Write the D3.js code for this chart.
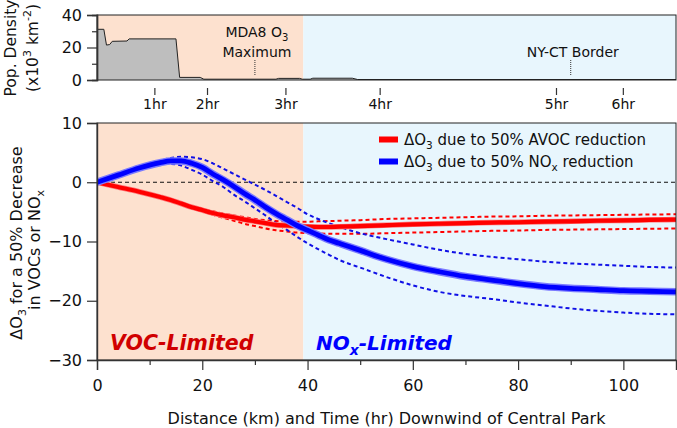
<!DOCTYPE html>
<html><head><meta charset="utf-8">
<script src="https://cdn.jsdelivr.net/npm/d3@7"></script>
<style>
body{margin:0;background:#fff}
svg{display:block}
text{font-family:"DejaVu Sans",Verdana,sans-serif;fill:#111}
</style>
</head><body>
<svg id="c" width="677" height="428"></svg>
<script>
// ---------- data ----------
const kmGrid   = [0,4,8,12,14,16,18,20,22,24,26,28,30,32,34,36,38,40,42,44,46,48,50,55,60,65,70,75,80,85,90,95,100,105,110];
const noxMain  = [0,1.2,2.4,3.3,3.6,3.6,3.2,2.5,1.4,0.4,-0.7,-1.9,-3.0,-4.2,-5.3,-6.3,-7.3,-8.1,-8.9,-9.7,-10.3,-10.9,-11.5,-13.0,-14.2,-15.1,-15.9,-16.5,-17.1,-17.6,-17.9,-18.1,-18.3,-18.4,-18.5];
const noxUpper = [0,1.2,2.5,3.6,4.1,4.3,4.2,3.9,3.2,2.3,1.4,0.5,-0.4,-1.3,-2.3,-3.3,-4.3,-5.4,-6.2,-6.9,-7.5,-8.1,-8.6,-9.6,-10.5,-11.4,-12.1,-12.6,-13.0,-13.4,-13.7,-13.9,-14.1,-14.3,-14.4];
const noxLower = [0,1.2,2.3,3.1,3.1,2.8,2.1,1.3,0.2,-0.8,-2.1,-3.2,-4.4,-5.6,-6.9,-8.0,-9.2,-10.3,-11.3,-12.2,-13.1,-13.8,-14.4,-16.0,-17.4,-18.5,-19.2,-19.7,-20.3,-20.8,-21.3,-21.7,-22.0,-22.2,-22.3];
const avocMain  = [0,-0.8,-1.6,-2.5,-3.0,-3.6,-4.2,-4.7,-5.2,-5.6,-5.9,-6.3,-6.6,-6.9,-7.2,-7.3,-7.4,-7.5,-7.55,-7.55,-7.5,-7.45,-7.4,-7.25,-7.1,-7.0,-6.9,-6.8,-6.75,-6.65,-6.6,-6.5,-6.45,-6.35,-6.3];
const avocUpper = [0,-0.8,-1.6,-2.4,-2.9,-3.5,-4.0,-4.5,-4.9,-5.3,-5.6,-5.9,-6.2,-6.4,-6.55,-6.6,-6.65,-6.65,-6.6,-6.55,-6.5,-6.45,-6.4,-6.2,-6.1,-6.0,-5.9,-5.8,-5.75,-5.65,-5.6,-5.55,-5.5,-5.45,-5.4];
const avocLower = [0,-0.8,-1.7,-2.6,-3.2,-3.8,-4.4,-4.9,-5.5,-6.0,-6.5,-7.0,-7.4,-7.8,-8.1,-8.3,-8.5,-8.6,-8.65,-8.7,-8.7,-8.7,-8.7,-8.6,-8.5,-8.4,-8.3,-8.2,-8.15,-8.05,-8.0,-7.95,-7.9,-7.85,-7.8];

const popKm  = [0,1.3,1.8,2.4,2.9,5.7,6.1,15.0,15.7,19.6,20.3,34,34.5,38.5,39,40.5,41,48.5,49.5,110];
const popVal = [31.2,31.2,21.5,21.8,23.8,24.0,25.3,25.3,1.6,1.6,0.5,0.5,1.0,1.0,0.5,0.5,1.1,1.1,0.3,0.3];

const regimeEdgesKm = [0, 39.2, 110];
const hourKm     = [10.9, 20.9, 35.8, 53.7, 87.2, 99.9];
const hourLabels = ["1hr","2hr","3hr","4hr","5hr","6hr"];
const markerKm   = [30, 90];

const xTicks      = [0,20,40,60,80,100];
const xMinorTicks = [10,30,50,70,90];
const yBotTicks   = [-30,-20,-10,0,10];
const yTopTicks   = [0,20,40];
const yTopMinor   = [10,30];

// ---------- setup ----------
const svg = d3.select("#c");
const x    = d3.scaleLinear().domain([0,110]).range([97,676]);
const yTop = d3.scaleLinear().domain([0,40]).range([80,15]);
const yBot = d3.scaleLinear().domain([-30,10]).range([360,123]);
const peach = "#fde1cf", sky = "#e8f6fd";

function shade(y){
  const [y0,y1] = y.range();
  svg.append("rect").attr("x",x(regimeEdgesKm[0])).attr("y",y1)
    .attr("width",x(regimeEdgesKm[1])-x(regimeEdgesKm[0])).attr("height",y0-y1).attr("fill",peach);
  svg.append("rect").attr("x",x(regimeEdgesKm[1])).attr("y",y1)
    .attr("width",x(regimeEdgesKm[2])-x(regimeEdgesKm[1])).attr("height",y0-y1).attr("fill",sky);
}
shade(yTop); shade(yBot);

// ---------- top panel ----------
const popData = popKm.map((k,i)=>({k, v:popVal[i]}));
svg.append("path").datum(popData)
  .attr("d", d3.area().x(d=>x(d.k)).y0(yTop(0)).y1(d=>yTop(d.v)))
  .attr("fill","#bebebe");
svg.append("path").datum(popData)
  .attr("d", d3.line().x(d=>x(d.k)).y(d=>yTop(d.v)))
  .attr("fill","none").attr("stroke","#222").attr("stroke-width",1);

markerKm.forEach(k=>{
  svg.append("line").attr("x1",x(k)).attr("x2",x(k)).attr("y1",60).attr("y2",76)
    .attr("stroke","#333").attr("stroke-width",1).attr("stroke-dasharray","1,1");
});
const mda = svg.append("text").attr("x",x(markerKm[0])+2).attr("y",36.5).attr("text-anchor","middle").style("font-size","14px");
mda.append("tspan").text("MDA8 O");
mda.append("tspan").attr("dy",4).style("font-size","10px").text("3");
svg.append("text").attr("x",x(markerKm[0])+2).attr("y",56.5).attr("text-anchor","middle").style("font-size","14px").text("Maximum");
svg.append("text").attr("x",x(markerKm[1])+2).attr("y",56.5).attr("text-anchor","middle").style("font-size","14px").text("NY-CT Border");

// frame top
svg.append("rect").attr("x",x(0)).attr("y",yTop(40)).attr("width",x(110)-x(0)).attr("height",yTop(0)-yTop(40))
  .attr("fill","none").attr("stroke","#222").attr("stroke-width",1);

const gyTop = svg.append("g").attr("transform",`translate(${x(0)},0)`)
  .call(d3.axisLeft(yTop).tickValues(yTopTicks).tickSize(10).tickPadding(5));
const gyTopMinor = svg.append("g").attr("transform",`translate(${x(0)},0)`)
  .call(d3.axisLeft(yTop).tickValues(yTopMinor).tickSize(5).tickFormat(""));

// hour axis
const gHr = svg.append("g").attr("transform","translate(0,88)")
  .call(d3.axisBottom(x).tickValues(hourKm).tickSize(7).tickPadding(4).tickFormat((d,i)=>hourLabels[i]));
gHr.select(".domain").remove();
gHr.selectAll("text").style("font-size","14px");

// ---------- bottom panel ----------
const clipId = "clipBot";
svg.append("clipPath").attr("id",clipId).append("rect")
  .attr("x",x(0)).attr("y",yBot(10)).attr("width",x(110)-x(0)).attr("height",yBot(-30)-yBot(10));

svg.append("line").attr("x1",x(0)).attr("x2",x(110)).attr("y1",yBot(0)).attr("y2",yBot(0))
  .attr("stroke","#111").attr("stroke-width",1).attr("stroke-dasharray","4,3");

const line = vals => d3.line().curve(d3.curveMonotoneX).x((d,i)=>x(kmGrid[i])).y(d=>yBot(d))(vals);
const gL = svg.append("g").attr("clip-path",`url(#${clipId})`);

function dashed(vals,color){
  gL.append("path").attr("d",line(vals)).attr("fill","none").attr("stroke",color)
    .attr("stroke-width",2).attr("stroke-dasharray","4,3");
}
function thick(vals,color,band,bw,w){
  gL.append("path").attr("d",line(vals)).attr("fill","none").attr("stroke",band).attr("stroke-width",bw).attr("stroke-linejoin","round");
  gL.append("path").attr("d",line(vals)).attr("fill","none").attr("stroke",color).attr("stroke-width",w).attr("stroke-linejoin","round");
}
dashed(avocUpper,"#ff0000");
dashed(avocLower,"#ff0000");
dashed(noxUpper,"#1010e6");
dashed(noxLower,"#1010e6");
thick(avocMain,"#ff0000","#ff7a7a",5.5,4.2);
thick(noxMain,"#0000ff","#7a7aff",7.5,4.8);

// frame bottom
svg.append("rect").attr("x",x(0)).attr("y",yBot(10)).attr("width",x(110)-x(0)).attr("height",yBot(-30)-yBot(10))
  .attr("fill","none").attr("stroke","#222").attr("stroke-width",1);

const gyBot = svg.append("g").attr("transform",`translate(${x(0)},0)`)
  .call(d3.axisLeft(yBot).tickValues(yBotTicks).tickSize(10).tickPadding(5));
const gxBot = svg.append("g").attr("transform",`translate(0,${yBot(-30)})`)
  .call(d3.axisBottom(x).tickValues(xTicks).tickSize(10).tickPadding(10));
svg.append("g").attr("transform",`translate(0,${yBot(-30)})`)
  .call(d3.axisBottom(x).tickValues(xMinorTicks).tickSize(5).tickFormat(""))
  .select(".domain").remove();

[gyTop,gyTopMinor,gyBot,gxBot].forEach(g=>{
  g.selectAll("text").style("font-size","16px").attr("fill","#111");
});
svg.selectAll(".tick line").attr("stroke","#333").attr("stroke-width",1.2);
svg.selectAll(".domain").attr("stroke","#333").attr("stroke-width",1.4);

// regime labels
svg.append("text").attr("x",110).attr("y",350).style("font-size","20.5px").style("font-weight","bold").style("font-style","italic")
  .style("fill","#d00000").text("VOC-Limited");
const nl = svg.append("text").attr("x",316).attr("y",350).style("font-size","20px").style("font-weight","bold").style("font-style","italic")
  .style("fill","#0000ff");
nl.append("tspan").text("NO");
nl.append("tspan").attr("dy",5).style("font-size","14px").text("x");
nl.append("tspan").attr("dy",-5).text("-Limited");

// legend
const legendRows = [
  {color:"#ff0000", pre:"\u0394O", sub1:"3", mid:" due to 50% AVOC reduction", sub2:null, post:""},
  {color:"#0000ff", pre:"\u0394O", sub1:"3", mid:" due to 50% NO", sub2:"x", post:" reduction"}
];
legendRows.forEach((r,i)=>{
  const cy = 139.5 + i*22;
  svg.append("rect").attr("x",379).attr("y",cy-3).attr("width",19).attr("height",6).attr("fill",r.color);
  const t = svg.append("text").attr("x",404).attr("y",cy+5.5).style("font-size","15px");
  t.append("tspan").text(r.pre);
  t.append("tspan").attr("dy",4).style("font-size","10.5px").text(r.sub1);
  t.append("tspan").attr("dy",-4).text(r.mid);
  if(r.sub2){
    t.append("tspan").attr("dy",4).style("font-size","10.5px").text(r.sub2);
    t.append("tspan").attr("dy",-4).text(r.post);
  }
});

// axis titles
svg.append("text").attr("x",386.5).attr("y",424).attr("text-anchor","middle").style("font-size","16px")
  .text("Distance (km) and Time (hr) Downwind of Central Park");

const t1 = svg.append("text").attr("transform","translate(22,243) rotate(-90)").attr("text-anchor","middle").style("font-size","16px");
t1.append("tspan").text("\u0394O");
t1.append("tspan").attr("dy",4).style("font-size","11px").text("3");
t1.append("tspan").attr("dy",-4).text(" for a 50% Decrease");
const t2 = svg.append("text").attr("transform","translate(40,250) rotate(-90)").attr("text-anchor","middle").style("font-size","16px");
t2.append("tspan").text("in VOCs or NO");
t2.append("tspan").attr("dy",4).style("font-size","11px").text("x");

svg.append("text").attr("transform","translate(16,48) rotate(-90)").attr("text-anchor","middle").style("font-size","15.5px").text("Pop. Density");
const t3 = svg.append("text").attr("transform","translate(38,48) rotate(-90)").attr("text-anchor","middle").style("font-size","15.5px");
t3.append("tspan").text("(x10");
t3.append("tspan").attr("dy",-7).style("font-size","11px").text("3");
t3.append("tspan").attr("dy",7).text(" km");
t3.append("tspan").attr("dy",-7).style("font-size","11px").text("-2");
t3.append("tspan").attr("dy",7).text(")");
</script>
</body></html>
